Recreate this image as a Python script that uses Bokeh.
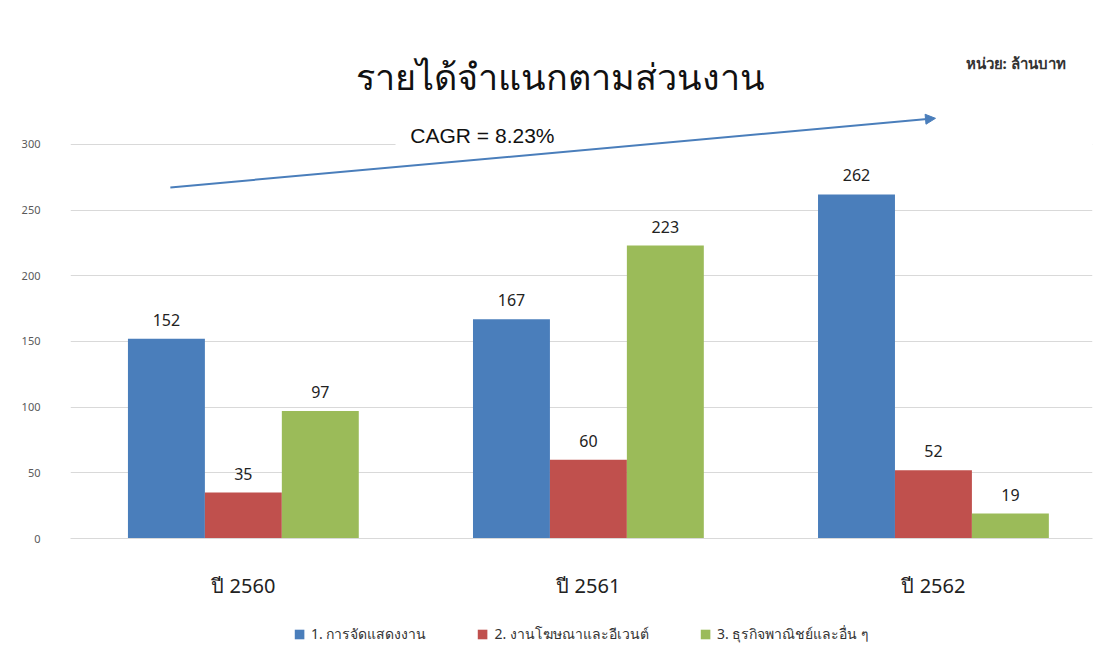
from bokeh.plotting import figure
from bokeh.models import (ColumnDataSource, FixedTicker, Legend, LegendItem, Label,
                          Arrow, NormalHead, Range1d)
from bokeh.layouts import column
from bokeh.embed import file_html
from bokeh.resources import INLINE
from bokeh.core.properties import value

years = ["ปี 2560", "ปี 2561", "ปี 2562"]
series_names = ["1. การจัดแสดงงาน", "2. งานโฆษณาและอีเวนต์", "3. ธุรกิจพาณิชย์และอื่น ๆ"]
exhibition = [152, 167, 262]
advertising = [35, 60, 52]
commerce = [97, 223, 19]
colors = ["#4A7EBB", "#C0504D", "#9BBB59"]
title_text = "รายได้จำแนกตามส่วนงาน"
unit_text = "หน่วย: ล้านบาท"
cagr_text = "CAGR = 8.23%"
y_ticks = [0, 50, 100, 150, 200, 250, 300]

FONT = "Noto Sans"

p = figure(width=1107, height=609, output_backend="svg", toolbar_location=None,
           x_range=Range1d(-0.501, 2.461), y_range=Range1d(0, 402),
           min_border_left=70, min_border_right=15, min_border_top=10,
           min_border_bottom=71)
p.outline_line_color = None
p.background_fill_color = "white"
p.border_fill_color = "white"

xs = list(range(len(years)))
bw = 0.223
offsets = [-bw, 0.0, bw]
all_vals = [exhibition, advertising, commerce]
for vals, off, col in zip(all_vals, offsets, colors):
    src = ColumnDataSource(dict(x=[x + off for x in xs], top=vals,
                                lab=[str(v) for v in vals]))
    p.vbar(x="x", top="top", width=bw, source=src, fill_color=col,
           line_color=None)
    p.text(x="x", y="top", text="lab", source=src, text_align="center",
           text_baseline="bottom", y_offset=-13, text_font=value(FONT),
           text_font_size="16px", text_color="#222222")

# white text box masking the top gridline behind CAGR text
p.quad(left=[0.441], right=[2.461], bottom=[292], top=[318],
       fill_color="white", line_color=None)

# axes
p.yaxis.ticker = FixedTicker(ticks=y_ticks)
p.yaxis.axis_line_color = None
p.yaxis.major_tick_line_color = None
p.yaxis.minor_tick_line_color = None
p.yaxis.major_label_text_font = FONT
p.yaxis.major_label_text_font_size = "11px"
p.yaxis.major_label_text_color = "#595959"
p.yaxis.major_label_standoff = 24

p.xaxis.ticker = FixedTicker(ticks=xs)
p.xaxis.major_label_overrides = {i: y for i, y in enumerate(years)}
p.xaxis.axis_line_color = "#D9D9D9"
p.xaxis.major_tick_line_color = None
p.xaxis.minor_tick_line_color = None
p.xaxis.major_label_text_font = FONT
p.xaxis.major_label_text_font_size = "20px"
p.xaxis.major_label_text_color = "#222222"
p.xaxis.major_label_standoff = 27

p.xgrid.grid_line_color = None
p.ygrid.ticker = FixedTicker(ticks=y_ticks)
p.ygrid.grid_line_color = "#D9D9D9"
p.ygrid.grid_line_width = 1

# title, unit, CAGR
p.add_layout(Label(x=0.919, y=352, text=title_text, text_align="center",
                   text_baseline="middle", text_font=FONT,
                   text_font_size="36px", text_color="#111111"))
p.add_layout(Label(x=2.093, y=362, text=unit_text, text_align="left",
                   text_baseline="middle", text_font=FONT,
                   text_font_size="15px", text_font_style="bold",
                   text_color="#333333"))
p.add_layout(Label(x=0.484, y=307, text=cagr_text, text_align="left",
                   text_baseline="middle", text_font="Liberation Sans",
                   text_font_size="21px", text_color="#111111"))
p.add_layout(Arrow(x_start=-0.2116, y_start=267.3, x_end=2.006, y_end=319.9,
                   line_color="#4A7EBB", line_width=2,
                   end=NormalHead(size=10, fill_color="#4A7EBB",
                                  line_color="#4A7EBB")))

# legend strip (proxy glyphs sit outside the visible range)
lg = figure(width=1107, height=50, output_backend="svg", toolbar_location=None,
            x_range=Range1d(0, 1), y_range=Range1d(0, 1),
            x_axis_location=None, y_axis_location=None, min_border=0)
lg.outline_line_color = None
lg.grid.visible = False
lg.border_fill_color = "white"
dummies = [lg.quad(left=[5], right=[6], bottom=[5], top=[6], fill_color=c,
                   line_color=None) for c in colors]
legend = Legend(items=[LegendItem(label=n, renderers=[r])
                       for n, r in zip(series_names, dummies)],
                orientation="horizontal", location="center",
                label_text_font=FONT, label_text_font_size="14px",
                label_text_color="#333333", glyph_width=12, glyph_height=12,
                label_standoff=6, spacing=50, border_line_color=None,
                background_fill_alpha=0, margin=0, padding=4)
lg.add_layout(legend)

open("out.html", "w").write(file_html(column(p, lg, spacing=0), INLINE))
